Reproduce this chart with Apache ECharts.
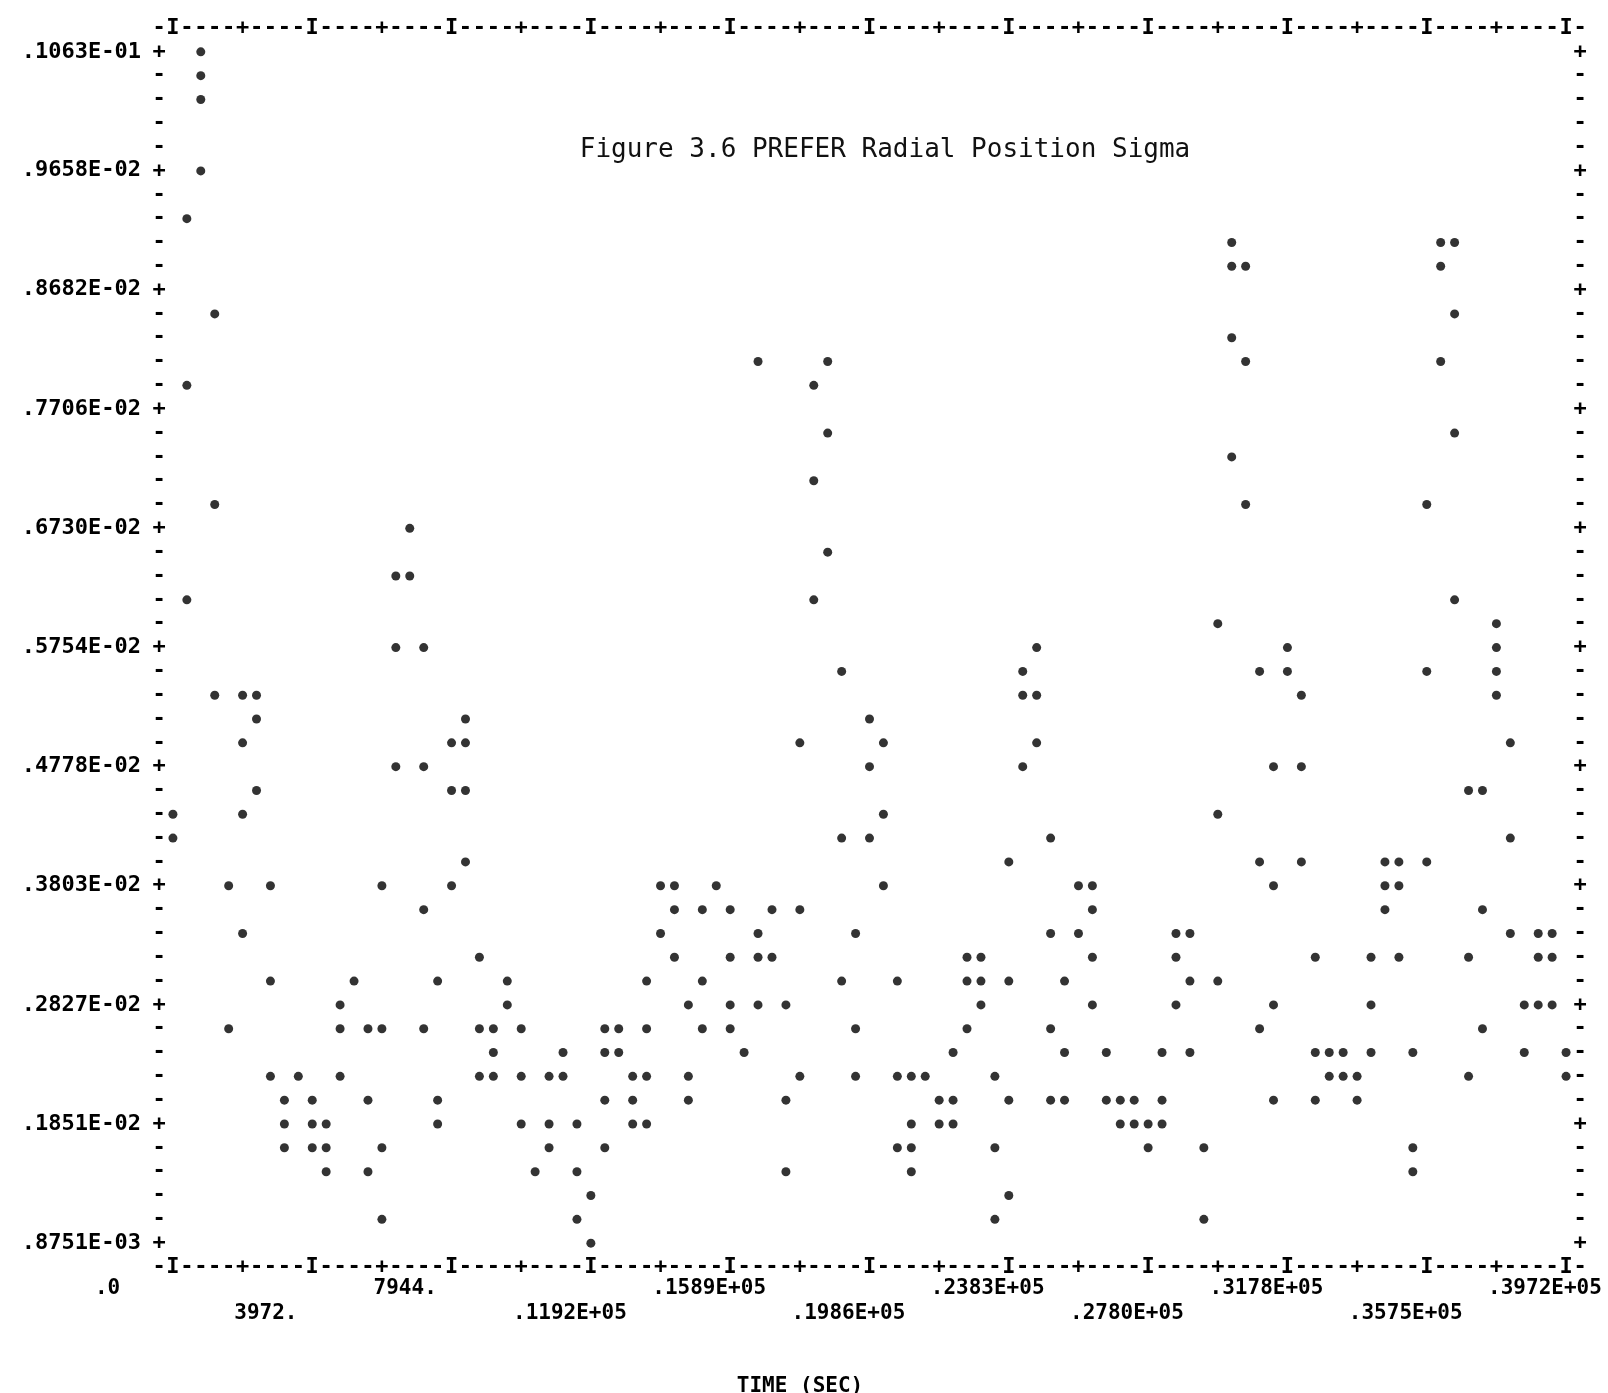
<!DOCTYPE html>
<html>
<head>
<meta charset="utf-8">
<title>PREFER Radial Position Sigma</title>
<script src="https://cdn.jsdelivr.net/npm/echarts@6.0.0/dist/echarts.min.js"></script>
<style>
    html, body { margin: 0; padding: 0; background: #fff; }
    #main { width: 1608px; height: 1393px; }
</style>
</head>
<body>
<div id="main"></div>
<script>
var xTickLabels = ['.0', '3972.', '7944.', '.1192E+05', '.1589E+05', '.1986E+05',
    '.2383E+05', '.2780E+05', '.3178E+05', '.3575E+05', '.3972E+05'];
var yTickLabels = ['.1063E-01', '.9658E-02', '.8682E-02', '.7706E-02', '.6730E-02',
    '.5754E-02', '.4778E-02', '.3803E-02', '.2827E-02', '.1851E-02', '.8751E-03'];

// [time (sec), radial position sigma]
var points = [
    [0, 0.004387], [0, 0.004192],
    [397, 0.009264], [397, 0.007899], [397, 0.006143],
    [794, 0.010630], [794, 0.010435], [794, 0.010240], [794, 0.009655],
    [1192, 0.008484], [1192, 0.006923], [1192, 0.005362],
    [1589, 0.003802], [1589, 0.002631],
    [1986, 0.005362], [1986, 0.004972], [1986, 0.004387], [1986, 0.003411],
    [2383, 0.005362], [2383, 0.005167], [2383, 0.004582],
    [2780, 0.003802], [2780, 0.003021], [2780, 0.002241],
    [3178, 0.002046], [3178, 0.001851], [3178, 0.001656],
    [3575, 0.002241],
    [3972, 0.002046], [3972, 0.001851], [3972, 0.001656],
    [4369, 0.001851], [4369, 0.001656], [4369, 0.001460],
    [4766, 0.002826], [4766, 0.002631], [4766, 0.002241],
    [5164, 0.003021],
    [5561, 0.002631], [5561, 0.002046], [5561, 0.001460],
    [5958, 0.003802], [5958, 0.002631], [5958, 0.001656], [5958, 0.001070],
    [6355, 0.006338], [6355, 0.005752], [6355, 0.004777],
    [6752, 0.006728], [6752, 0.006338],
    [7150, 0.005752], [7150, 0.004777], [7150, 0.003606], [7150, 0.002631],
    [7547, 0.003021], [7547, 0.002046], [7547, 0.001851],
    [7944, 0.004972], [7944, 0.004582], [7944, 0.003802],
    [8341, 0.005167], [8341, 0.004972], [8341, 0.004582], [8341, 0.003997],
    [8738, 0.003216], [8738, 0.002631], [8738, 0.002241],
    [9136, 0.002631], [9136, 0.002436], [9136, 0.002241],
    [9533, 0.003021], [9533, 0.002826],
    [9930, 0.002631], [9930, 0.002241], [9930, 0.001851],
    [10327, 0.001460],
    [10724, 0.002241], [10724, 0.001851], [10724, 0.001656],
    [11122, 0.002436], [11122, 0.002241],
    [11519, 0.001851], [11519, 0.001460], [11519, 0.001070],
    [11916, 0.001265], [11916, 0.000875],
    [12313, 0.002631], [12313, 0.002436], [12313, 0.002046], [12313, 0.001656],
    [12710, 0.002631], [12710, 0.002436],
    [13108, 0.002241], [13108, 0.002046], [13108, 0.001851],
    [13505, 0.003021], [13505, 0.002631], [13505, 0.002241], [13505, 0.001851],
    [13902, 0.003802], [13902, 0.003411],
    [14299, 0.003802], [14299, 0.003606], [14299, 0.003216],
    [14696, 0.002826], [14696, 0.002241], [14696, 0.002046],
    [15094, 0.003606], [15094, 0.003021], [15094, 0.002631],
    [15491, 0.003802],
    [15888, 0.003606], [15888, 0.003216], [15888, 0.002826], [15888, 0.002631],
    [16285, 0.002436],
    [16682, 0.008094], [16682, 0.003411], [16682, 0.003216], [16682, 0.002826],
    [17080, 0.003606], [17080, 0.003216],
    [17477, 0.002826], [17477, 0.002046], [17477, 0.001460],
    [17874, 0.004972], [17874, 0.003606], [17874, 0.002241],
    [18271, 0.007899], [18271, 0.007118], [18271, 0.006143],
    [18668, 0.008094], [18668, 0.007508], [18668, 0.006533],
    [19066, 0.005557], [19066, 0.004192], [19066, 0.003021],
    [19463, 0.003411], [19463, 0.002631], [19463, 0.002241],
    [19860, 0.005167], [19860, 0.004777], [19860, 0.004192],
    [20257, 0.004972], [20257, 0.004387], [20257, 0.003802],
    [20654, 0.003021], [20654, 0.002241], [20654, 0.001656],
    [21052, 0.002241], [21052, 0.001851], [21052, 0.001656], [21052, 0.001460],
    [21449, 0.002241],
    [21846, 0.002046], [21846, 0.001851],
    [22243, 0.002436], [22243, 0.002046], [22243, 0.001851],
    [22640, 0.003216], [22640, 0.003021], [22640, 0.002631],
    [23038, 0.003216], [23038, 0.003021], [23038, 0.002826],
    [23435, 0.002241], [23435, 0.001656], [23435, 0.001070],
    [23832, 0.003997], [23832, 0.003021], [23832, 0.002046], [23832, 0.001265],
    [24229, 0.005557], [24229, 0.005362], [24229, 0.004777],
    [24626, 0.005752], [24626, 0.005362], [24626, 0.004972],
    [25024, 0.004192], [25024, 0.003411], [25024, 0.002631], [25024, 0.002046],
    [25421, 0.003021], [25421, 0.002436], [25421, 0.002046],
    [25818, 0.003802], [25818, 0.003411],
    [26215, 0.003802], [26215, 0.003606], [26215, 0.003216], [26215, 0.002826],
    [26612, 0.002436], [26612, 0.002046],
    [27010, 0.002046], [27010, 0.001851],
    [27407, 0.002046], [27407, 0.001851],
    [27804, 0.001851], [27804, 0.001656],
    [28201, 0.002436], [28201, 0.002046], [28201, 0.001851],
    [28598, 0.003411], [28598, 0.003216], [28598, 0.002826],
    [28996, 0.003411], [28996, 0.003021], [28996, 0.002436],
    [29393, 0.001656], [29393, 0.001070],
    [29790, 0.005948], [29790, 0.004387], [29790, 0.003021],
    [30187, 0.009069], [30187, 0.008874], [30187, 0.008289], [30187, 0.007313],
    [30584, 0.008874], [30584, 0.008094], [30584, 0.006923],
    [30982, 0.005557], [30982, 0.003997], [30982, 0.002631],
    [31379, 0.004777], [31379, 0.003802], [31379, 0.002826], [31379, 0.002046],
    [31776, 0.005752], [31776, 0.005557],
    [32173, 0.005362], [32173, 0.004777], [32173, 0.003997],
    [32570, 0.003216], [32570, 0.002436], [32570, 0.002046],
    [32968, 0.002436], [32968, 0.002241],
    [33365, 0.002436], [33365, 0.002241],
    [33762, 0.002241], [33762, 0.002046],
    [34159, 0.003216], [34159, 0.002826], [34159, 0.002436],
    [34556, 0.003997], [34556, 0.003802], [34556, 0.003606],
    [34954, 0.003997], [34954, 0.003802], [34954, 0.003216],
    [35351, 0.002436], [35351, 0.001656], [35351, 0.001460],
    [35748, 0.006923], [35748, 0.005557], [35748, 0.003997],
    [36145, 0.009069], [36145, 0.008874], [36145, 0.008094],
    [36542, 0.009069], [36542, 0.008484], [36542, 0.007508], [36542, 0.006143],
    [36940, 0.004582], [36940, 0.003216], [36940, 0.002241],
    [37337, 0.004582], [37337, 0.003606], [37337, 0.002631],
    [37734, 0.005948], [37734, 0.005752], [37734, 0.005557], [37734, 0.005362],
    [38131, 0.004972], [38131, 0.004192], [38131, 0.003411],
    [38528, 0.002826], [38528, 0.002436],
    [38926, 0.003411], [38926, 0.003216], [38926, 0.002826],
    [39323, 0.003411], [39323, 0.003216], [39323, 0.002826],
    [39720, 0.002436], [39720, 0.002241]
];

var myChart;
(function () {
    var xTicks = xTickLabels.map(parseFloat);
    var yTicks = yTickLabels.map(parseFloat);

    // line printer grid: 10 print columns per x label, 5 print lines per y label
    var colStep = (xTicks[10] - xTicks[0]) / 100;
    var rowStep = (yTicks[0] - yTicks[10]) / 50;
    var cols = [], rows = [];
    for (var c = -1; c <= 101; c++) {
        cols.push(xTicks[0] + c * colStep);
    }
    for (var r = -1; r <= 51; r++) {
        rows.push(yTicks[0] - r * rowStep);
    }
    var xMin = cols[0], xMax = cols[cols.length - 1];
    var yMax = rows[0], yMin = rows[rows.length - 1];

    var mono = 'DejaVu Sans Mono';

    function nearest(list, v) {
        var best = 0;
        for (var i = 1; i < list.length; i++) {
            if (Math.abs(list[i] - v) < Math.abs(list[best] - v)) best = i;
        }
        return best;
    }

    function xFrameChar(v) {
        var c = Math.round((v - xTicks[0]) / colStep);
        if (c < 0 || c > 100) return '-';
        if (c % 10 === 0) return 'I';
        if (c % 5 === 0) return '+';
        return '-';
    }

    function yFrameChar(v) {
        var r = Math.round((yTicks[0] - v) / rowStep);
        if (r < 0 || r > 50) return '';
        return r % 5 === 0 ? '+' : '-';
    }

    var frameFont = {
        fontFamily: mono,
        fontWeight: 'bold',
        fontSize: 22,
        color: '#000',
        margin: 0,
        align: 'center',
        verticalAlign: 'middle'
    };

    function frameAxis(base, values, fmt) {
        var axisLabel = Object.assign({}, frameFont, {customValues: values, formatter: fmt});
        return Object.assign({
            type: 'value',
            axisLine: {show: false},
            axisTick: {show: false},
            splitLine: {show: false},
            axisLabel: axisLabel
        }, base);
    }

    function xNumberAxis(parity, margin) {
        return {
            type: 'value',
            position: 'bottom',
            min: xMin,
            max: xMax,
            axisLine: {show: false},
            axisTick: {show: false},
            splitLine: {show: false},
            axisLabel: {
                customValues: xTicks.filter(function (v, i) { return i % 2 === parity; }),
                margin: margin,
                align: 'center',
                verticalAlign: 'middle',
                formatter: function (v) {
                    return '{t|' + xTickLabels[nearest(xTicks, v)] + '}';
                },
                rich: {
                    t: {
                        width: 156,
                        align: 'left',
                        fontFamily: mono,
                        fontWeight: 'bold',
                        fontSize: 21,
                        color: '#000'
                    }
                }
            }
        };
    }

    var option = {
        backgroundColor: '#fff',
        animation: false,
        title: {
            text: 'Figure 3.6 PREFER Radial Position Sigma',
            left: 880,
            top: 132,
            textAlign: 'center',
            textStyle: {
                fontFamily: mono,
                fontWeight: 'normal',
                fontSize: 26,
                color: '#111'
            }
        },
        grid: {
            left: 159,
            right: 28,
            top: 28,
            bottom: 126,
            outerBoundsMode: 'none'
        },
        xAxis: [
            frameAxis({
                position: 'bottom', min: xMin, max: xMax,
                name: 'TIME (SEC)',
                nameLocation: 'middle',
                nameGap: 120,
                nameTextStyle: {
                    fontFamily: mono,
                    fontWeight: 'bold',
                    fontSize: 21,
                    color: '#000',
                    verticalAlign: 'middle',
                    padding: [0, 139, 0, 0]
                }
            }, cols, xFrameChar),
            frameAxis({position: 'top', min: xMin, max: xMax}, cols, xFrameChar),
            xNumberAxis(0, 22),
            xNumberAxis(1, 47)
        ],
        yAxis: [
            frameAxis({position: 'left', min: yMin, max: yMax}, rows, yFrameChar),
            frameAxis({position: 'right', min: yMin, max: yMax}, rows, yFrameChar),
            {
                type: 'value',
                position: 'left',
                min: yMin,
                max: yMax,
                axisLine: {show: false},
                axisTick: {show: false},
                splitLine: {show: false},
                axisLabel: {
                    customValues: yTicks,
                    margin: 18,
                    align: 'right',
                    verticalAlign: 'middle',
                    fontFamily: mono,
                    fontWeight: 'bold',
                    fontSize: 22,
                    color: '#000',
                    formatter: function (v) {
                        return yTickLabels[nearest(yTicks, v)];
                    }
                }
            }
        ],
        series: [{
            type: 'scatter',
            xAxisIndex: 0,
            yAxisIndex: 0,
            symbol: 'circle',
            symbolSize: 9,
            silent: true,
            itemStyle: {color: '#000'},
            data: points
        }]
    };

    myChart = echarts.init(document.getElementById('main'));
    myChart.setOption(option);

    window.onresize = function () {
        myChart.resize();
    };
}());
</script>
</body>
</html>
